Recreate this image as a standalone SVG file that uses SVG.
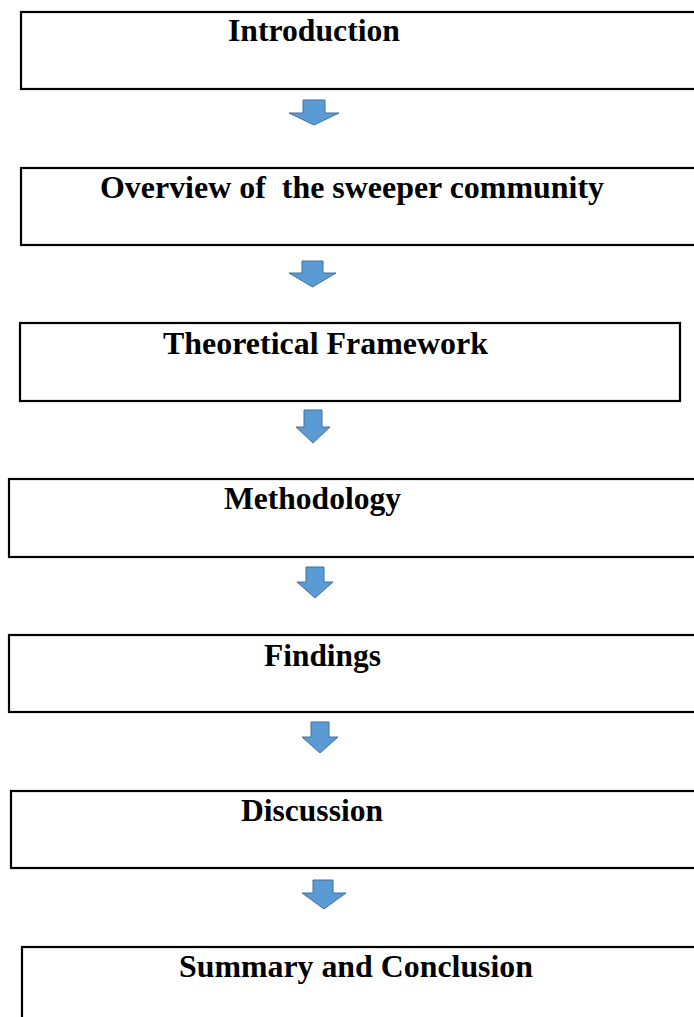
<svg xmlns="http://www.w3.org/2000/svg" width="694" height="1017" viewBox="0 0 694 1017">
<style>
.box{fill:#fff;stroke:#000;stroke-width:2.2}
.lbl{font-family:"Liberation Serif","Times New Roman",serif;font-weight:bold;font-size:31px;fill:#000}
.arr{fill:#5b9bd5;stroke:#41719c;stroke-width:1}
</style>
<rect width="694" height="1017" fill="#fff"/>
<g id="connectors">
<path class="arr" d="M303,100 H325 V113 H339 L314,125 L289,113 H303 Z"/>
<path class="arr" d="M302,261 H323 V273 H336 L312.5,287 L289,273 H302 Z"/>
<path class="arr" d="M304,410 H322 V427 H330 L313,443 L296,427 H304 Z"/>
<path class="arr" d="M306,567 H324 V582 H333 L315,598 L297,582 H306 Z"/>
<path class="arr" d="M311,722 H329 V737 H338 L320,753 L302,737 H311 Z"/>
<path class="arr" d="M313,880 H333 V893 H346 L324,909 L302,893 H313 Z"/>
</g>
<g id="n1"><rect class="box" x="21" y="12" width="690" height="77"/><text class="lbl" x="228" y="41" textLength="172" lengthAdjust="spacingAndGlyphs">Introduction</text></g>
<g id="n2"><rect class="box" x="21" y="168" width="690" height="77"/><text class="lbl" x="100" y="198" textLength="504" lengthAdjust="spacingAndGlyphs" xml:space="preserve">Overview of  the sweeper community</text></g>
<g id="n3"><rect class="box" x="20" y="323" width="660" height="78"/><text class="lbl" x="163" y="354" textLength="325" lengthAdjust="spacingAndGlyphs">Theoretical Framework</text></g>
<g id="n4"><rect class="box" x="9" y="479" width="700" height="78"/><text class="lbl" x="224" y="509" textLength="177" lengthAdjust="spacingAndGlyphs">Methodology</text></g>
<g id="n5"><rect class="box" x="9" y="635" width="700" height="77"/><text class="lbl" x="264" y="666" textLength="117" lengthAdjust="spacingAndGlyphs">Findings</text></g>
<g id="n6"><rect class="box" x="11" y="791" width="700" height="77"/><text class="lbl" x="241" y="821" textLength="142" lengthAdjust="spacingAndGlyphs">Discussion</text></g>
<g id="n7"><rect class="box" x="22" y="947" width="690" height="90"/><text class="lbl" x="179" y="977" textLength="354" lengthAdjust="spacingAndGlyphs">Summary and Conclusion</text></g>
</svg>
